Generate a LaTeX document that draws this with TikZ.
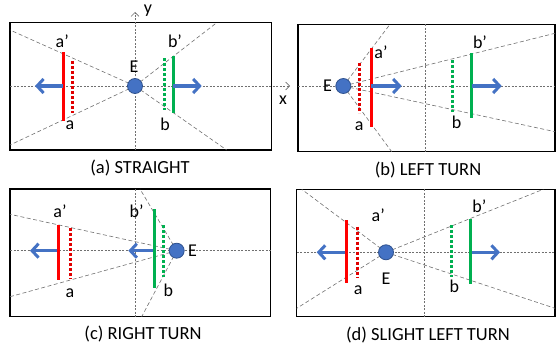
\documentclass[tikz,border=0pt]{standalone}
\usepackage{fontspec}
\setmainfont{Carlito}
\usetikzlibrary{arrows.meta}
\definecolor{myred}{HTML}{FF0000}
\definecolor{dred}{HTML}{E00000}
\definecolor{mygreen}{HTML}{00B050}
\definecolor{myblue}{HTML}{4472C4}
\definecolor{eyeedge}{HTML}{2F528F}
\definecolor{raygray}{HTML}{707070}
\begin{document}
\begin{tikzpicture}[x=1pt,y=-1pt,
 boxframe/.style={draw=black,line width=1.2pt},
 ray/.style={draw=raygray,line width=0.6pt,dash pattern=on 4pt off 2.5pt},
 axisline/.style={draw=raygray,line width=0.6pt,dash pattern=on 2pt off 1.5pt},
 axisarrow/.style={axisline,-{Straight Barb[length=4pt,width=8pt,line width=0.6pt]}},
 solidred/.style={draw=myred,line width=3pt},
 dotred/.style={draw=dred,line width=3pt,dash pattern=on 3pt off 2pt},
 solidgreen/.style={draw=mygreen,line width=3pt},
 dotgreen/.style={draw=mygreen,line width=3pt,dash pattern=on 3pt off 2pt},
 eye/.style={circle,fill=myblue,draw=eyeedge,line width=0.8pt,minimum size=15pt,inner sep=0pt},
 lbl/.style={font=\fontsize{18}{18}\selectfont,inner sep=0pt},
 captext/.style={font=\fontsize{18.5}{18.5}\selectfont,inner sep=0pt},
 movearrow/.style={draw=myblue,line width=3.5pt,-{Straight Barb[length=6.5pt,width=14pt,line width=3pt]}}
]
\useasboundingbox (0,0) rectangle (557,345);

% ---------- (a) STRAIGHT ----------
\draw[boxframe] (10,22.7) rectangle (271.7,150);
\coordinate (Ea) at (135,86);
\coordinate (xs) at (10,86);
\coordinate (xe) at (290,86);
\coordinate (ys) at (135,150);
\coordinate (ye) at (135,12);
\draw[axisarrow] (xs) -- (xe);
\draw[axisarrow] (ys) -- (ye);
\node[lbl] (xl) at (283,100) {x};
\node[lbl] (yl) at (148,11) {y};
\coordinate (a1) at (10,30);
\coordinate (a2) at (10,145);
\coordinate (a3) at (216.7,22.7);
\coordinate (a4) at (226.7,150);
\foreach \p in {a1,a2,a3,a4} \draw[ray] (Ea) -- (\p);
\coordinate (ra1) at (63.3,52.3); \coordinate (ra2) at (63.3,120.7);
\coordinate (rd1) at (72.7,61); \coordinate (rd2) at (72.7,112.7);
\coordinate (gd1) at (164,58.3); \coordinate (gd2) at (164,110);
\coordinate (gs1) at (173.3,56); \coordinate (gs2) at (173.3,113.3);
\draw[solidred] (ra1) -- (ra2);
\draw[dotred] (rd1) -- (rd2);
\draw[dotgreen] (gd1) -- (gd2);
\draw[solidgreen] (gs1) -- (gs2);
\coordinate (ma1) at (63.3,86); \coordinate (ma2) at (35,86);
\coordinate (mb1) at (173.3,86); \coordinate (mb2) at (201.7,86);
\draw[movearrow] (ma1) -- (ma2);
\draw[movearrow] (mb1) -- (mb2);
\node[eye] (Eca) at (Ea) {};
\node[lbl] (Ela) at (134,67) {E};
\node[lbl] (apa) at (62.3,41.7) {a’};
\node[lbl] (aa) at (70,125) {a};
\node[lbl] (bpa) at (175,41.7) {b’};
\node[lbl] (ba) at (165,124) {b};
\node[captext] (capa) at (140,168) {(a) STRAIGHT};

% ---------- (b) LEFT TURN ----------
\draw[boxframe] (298,24.3) rectangle (555,151.7);
\coordinate (Eb) at (343.3,86);
\coordinate (bh1) at (298,86); \coordinate (bh2) at (555,86);
\coordinate (bv1) at (425.7,24.3); \coordinate (bv2) at (425.7,151.7);
\draw[axisline] (bh1) -- (bh2);
\draw[axisline] (bv1) -- (bv2);
\coordinate (b1) at (390,24.3);
\coordinate (b2) at (391.7,151.7);
\coordinate (b3) at (555,33.3);
\coordinate (b4) at (555,131.7);
\foreach \p in {b1,b2,b3,b4} \draw[ray] (Eb) -- (\p);
\coordinate (rb1) at (371,48.3); \coordinate (rb2) at (371,127.3);
\coordinate (rdb1) at (359,63.3); \coordinate (rdb2) at (359,113.3);
\coordinate (gdb1) at (452.3,60); \coordinate (gdb2) at (452.3,111.7);
\coordinate (gsb1) at (471.7,53.3); \coordinate (gsb2) at (471.7,118.3);
\draw[solidred] (rb1) -- (rb2);
\draw[dotred] (rdb1) -- (rdb2);
\draw[dotgreen] (gdb1) -- (gdb2);
\draw[solidgreen] (gsb1) -- (gsb2);
\coordinate (mc1) at (371,86); \coordinate (mc2) at (401.7,86);
\coordinate (md1) at (471.7,86); \coordinate (md2) at (501.7,86);
\draw[movearrow] (mc1) -- (mc2);
\draw[movearrow] (md1) -- (md2);
\node[eye] (Ecb) at (Eb) {};
\node[lbl] (Elb) at (327.5,86) {E};
\node[lbl] (apb) at (381,52) {a’};
\node[lbl] (ab) at (359.3,126) {a};
\node[lbl] (bpb) at (480,42.7) {b’};
\node[lbl] (bb) at (456.7,122.7) {b};
\node[captext] (capb) at (428,170) {(b) LEFT TURN};

% ---------- (c) RIGHT TURN ----------
\draw[boxframe] (10,189) rectangle (270.7,316.7);
\coordinate (Ec) at (176.7,250.7);
\coordinate (ch1) at (10,250.7); \coordinate (ch2) at (270.7,250.7);
\coordinate (cv1) at (135.7,189); \coordinate (cv2) at (135.7,316.7);
\draw[axisline] (ch1) -- (ch2);
\draw[axisline] (cv1) -- (cv2);
\coordinate (c1) at (140,189);
\coordinate (c2) at (141.7,316.7);
\coordinate (c3) at (10,214.3);
\coordinate (c4) at (10,296.7);
\foreach \p in {c1,c2,c3,c4} \draw[ray] (Ec) -- (\p);
\coordinate (rc1) at (58.3,225); \coordinate (rc2) at (58.3,280);
\coordinate (rdc1) at (70,228.3); \coordinate (rdc2) at (70,279);
\coordinate (gsc1) at (154,209.3); \coordinate (gsc2) at (154,288.3);
\coordinate (gdc1) at (163.3,225); \coordinate (gdc2) at (163.3,276.7);
\coordinate (me1) at (58.3,250.7); \coordinate (me2) at (30,250.7);
\coordinate (mf1) at (156,250.7); \coordinate (mf2) at (128.3,250.7);
\draw[movearrow] (me1) -- (me2);
\draw[movearrow] (mf1) -- (mf2);
\draw[solidred] (rc1) -- (rc2);
\draw[dotred] (rdc1) -- (rdc2);
\draw[solidgreen] (gsc1) -- (gsc2);
\draw[dotgreen] (gdc1) -- (gdc2);
\node[eye] (Ecc) at (Ec) {};
\node[lbl] (Elc) at (192.5,250.7) {E};
\node[lbl] (apc) at (60,211.7) {a’};
\node[lbl] (ac) at (70,293.3) {a};
\node[lbl] (bpc) at (136.7,211.7) {b’};
\node[lbl] (bc) at (168.3,290) {b};
\node[captext] (capc) at (143,334.5) {(c) RIGHT TURN};

% ---------- (d) SLIGHT LEFT TURN ----------
\draw[boxframe] (296.7,189.3) rectangle (555,316.7);
\coordinate (Ed) at (386,252.3);
\coordinate (dh1) at (296.7,252.3); \coordinate (dh2) at (555,252.3);
\coordinate (dv1) at (424,189.3); \coordinate (dv2) at (424,316.7);
\draw[axisline] (dh1) -- (dh2);
\draw[axisline] (dv1) -- (dv2);
\coordinate (d1) at (301.7,189.3);
\coordinate (d2) at (296.7,308.3);
\coordinate (d3) at (543.3,189.3);
\coordinate (d4) at (555,308.3);
\foreach \p in {d1,d2,d3,d4} \draw[ray] (Ed) -- (\p);
\coordinate (rd1d) at (346.7,220); \coordinate (rd2d) at (346.7,283.3);
\coordinate (rdd1) at (357.3,226.7); \coordinate (rdd2) at (357.3,278.3);
\coordinate (gdd1) at (451,225); \coordinate (gdd2) at (451,276.7);
\coordinate (gsd1) at (470,219.3); \coordinate (gsd2) at (470,284);
\coordinate (mg1) at (346.7,252.3); \coordinate (mg2) at (316.7,252.3);
\coordinate (mh1) at (470,252.3); \coordinate (mh2) at (500,252.3);
\draw[movearrow] (mg1) -- (mg2);
\draw[movearrow] (mh1) -- (mh2);
\draw[solidred] (rd1d) -- (rd2d);
\draw[dotred] (rdd1) -- (rdd2);
\draw[dotgreen] (gdd1) -- (gdd2);
\draw[solidgreen] (gsd1) -- (gsd2);
\node[eye] (Ecd) at (Ed) {};
\node[lbl] (Eld) at (386,278.3) {E};
\node[lbl] (apd) at (378.3,215) {a’};
\node[lbl] (ad) at (358.3,290) {a};
\node[lbl] (bpd) at (479.3,206.7) {b’};
\node[lbl] (bd) at (454.3,286.7) {b};
\node[captext] (capd) at (428,335) {(d) SLIGHT LEFT TURN};
\end{tikzpicture}
\end{document}
